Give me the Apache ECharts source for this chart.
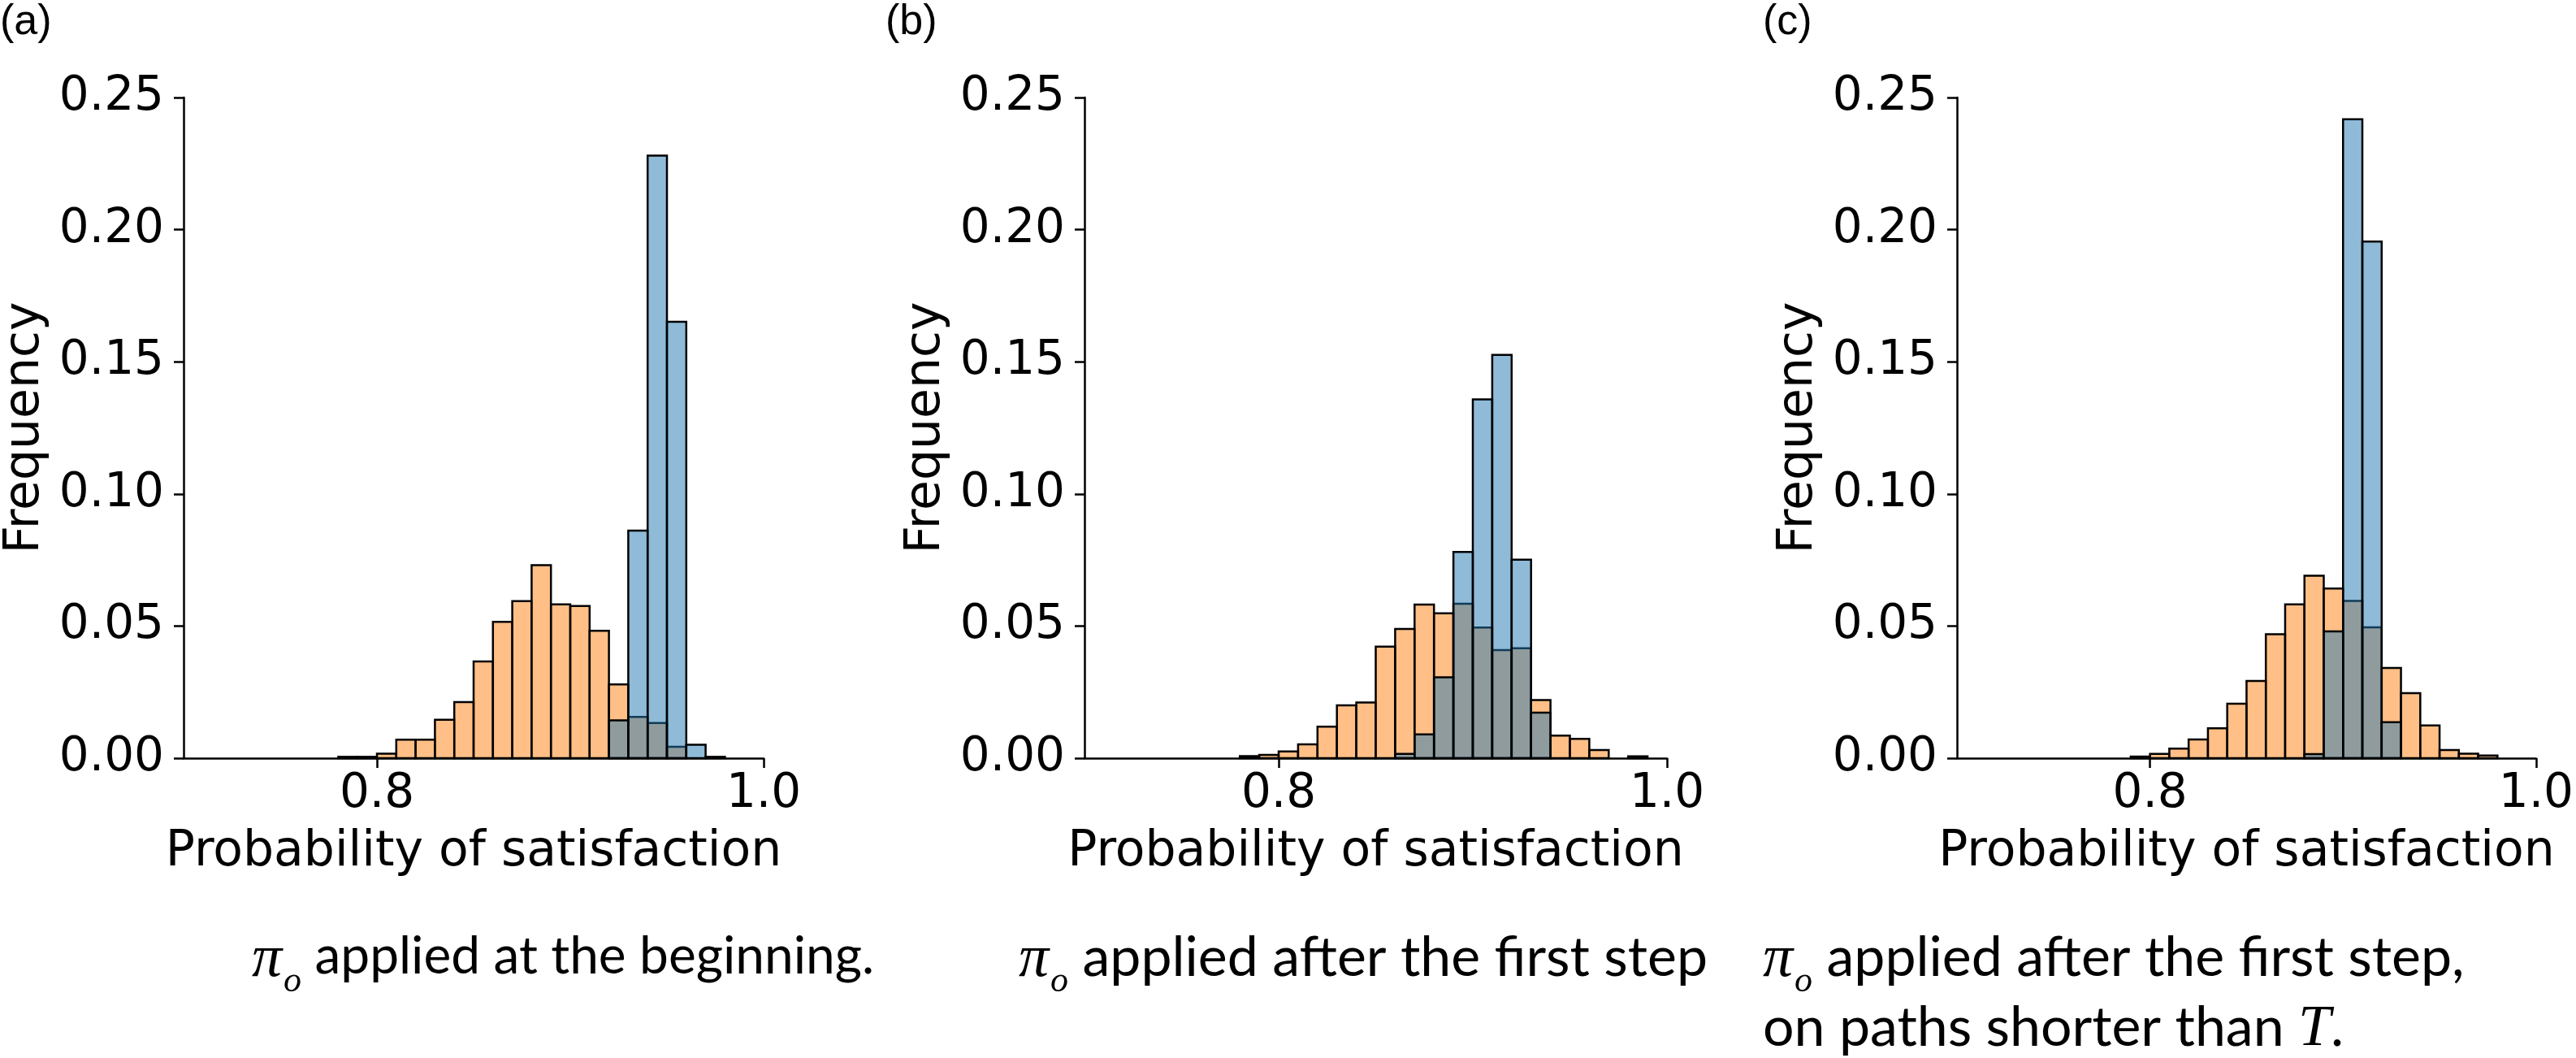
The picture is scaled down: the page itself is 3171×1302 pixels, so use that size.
<!DOCTYPE html>
<html>
<head>
<meta charset="utf-8">
<script src="https://cdn.jsdelivr.net/npm/echarts@6/dist/echarts.min.js"></script>
<style>
    html, body { margin: 0; padding: 0; background: #fff; }
    #chart { width: 3171px; height: 1302px; }
</style>
</head>
<body>
<div id="chart"></div>
<script>
// histogram bins (left edges), width 0.01
var binWidth = 0.01;
var binStarts = [0.78, 0.79, 0.80, 0.81, 0.82, 0.83, 0.84, 0.85, 0.86, 0.87, 0.88,
    0.89, 0.90, 0.91, 0.92, 0.93, 0.94, 0.95, 0.96, 0.97, 0.98];

// (a) applied at the beginning
var orangeA = [0.0005, 0.0005, 0.0017, 0.0070, 0.0070, 0.0145, 0.0212, 0.0366, 0.0516, 0.0594, 0.0730,
    0.0582, 0.0576, 0.0482, 0.0279, 0.0156, 0.0133, 0.0043, 0, 0, 0];
var blueA = [0, 0, 0, 0, 0, 0, 0, 0, 0, 0, 0,
    0, 0, 0, 0.0143, 0.0861, 0.2280, 0.1651, 0.0051, 0.0005, 0];

// (b) applied after the first step
var orangeB = [0.0008, 0.0012, 0.0025, 0.0052, 0.0119, 0.0200, 0.0211, 0.0422, 0.0489, 0.0581, 0.0548,
    0.0584, 0.0494, 0.0409, 0.0416, 0.0220, 0.0085, 0.0073, 0.0031, 0, 0.0007];
var blueB = [0, 0, 0, 0, 0, 0, 0, 0, 0.0016, 0.0090, 0.0306,
    0.0780, 0.1358, 0.1526, 0.0751, 0.0172, 0, 0, 0, 0, 0];

// (c) after the first step, paths shorter than T
var orangeC = [0, 0.0006, 0.0016, 0.0036, 0.0071, 0.0113, 0.0206, 0.0292, 0.0469, 0.0582, 0.0690,
    0.0642, 0.0595, 0.0495, 0.0341, 0.0246, 0.0124, 0.0031, 0.0017, 0.0010, 0];
var blueC = [0, 0, 0, 0, 0, 0, 0, 0, 0, 0, 0.0015,
    0.0480, 0.2418, 0.1955, 0.0136, 0, 0, 0, 0, 0, 0];

var xTicks = [0.8, 1.0];
var panelLabels = ['(a)', '(b)', '(c)'];
var xLabel = 'Probability of satisfaction';
var yLabel = 'Frequency';

var ORANGE = 'rgba(255,127,14,0.5)';
var BLUE = 'rgba(31,119,180,0.5)';
var TICK_FONT = 'DejaVu Sans';

var chart = echarts.init(document.getElementById('chart'));

function toBins(values) {
    var out = [];
    for (var i = 0; i < binStarts.length; i++) {
        if (values[i] > 0) {
            out.push([binStarts[i], binStarts[i] + binWidth, values[i]]);
        }
    }
    return out;
}

function histRender(fill) {
    return function (params, api) {
        var p0 = api.coord([api.value(0), 0]);
        var p1 = api.coord([api.value(1), api.value(2)]);
        return {
            type: 'rect',
            shape: { x: p0[0], y: p1[1], width: p1[0] - p0[0], height: p0[1] - p1[1] },
            style: { fill: fill, stroke: '#000', lineWidth: 2.5 }
        };
    };
}

function histSeries(idx, values, fill) {
    return {
        type: 'custom',
        xAxisIndex: idx,
        yAxisIndex: idx,
        renderItem: histRender(fill),
        encode: { x: [0, 1], y: 2 },
        data: toBins(values)
    };
}

var gridLefts = [223, 1335, 2409];
var grids = [], xAxes = [], yAxes = [];
for (var i = 0; i < 3; i++) {
    grids.push({ left: gridLefts[i], top: 120, width: 717, height: 813 });
    xAxes.push({
        type: 'value', gridIndex: i, min: 0.7, max: 1.0,
        name: xLabel, nameLocation: 'middle', nameGap: 86,
        nameTextStyle: { fontSize: 60, fontFamily: TICK_FONT, color: '#000' },
        axisLine: { lineStyle: { color: '#000', width: 2.5 } },
        axisTick: { customValues: xTicks, length: 12, lineStyle: { color: '#000', width: 2.5 } },
        axisLabel: {
            customValues: xTicks, margin: 16, fontSize: 58, fontFamily: TICK_FONT, color: '#000',
            formatter: function (v) { return v.toFixed(1); }
        },
        splitLine: { show: false }
    });
    yAxes.push({
        type: 'value', gridIndex: i, min: 0, max: 0.25, interval: 0.05,
        name: yLabel, nameLocation: 'middle', nameGap: 165, nameRotate: 90,
        nameTextStyle: { fontSize: 60, fontFamily: TICK_FONT, color: '#000' },
        axisLine: { show: true, lineStyle: { color: '#000', width: 2.5 } },
        axisTick: { show: true, length: 12, lineStyle: { color: '#000', width: 2.5 } },
        axisLabel: {
            margin: 24, fontSize: 58, fontFamily: TICK_FONT, color: '#000',
            formatter: function (v) { return v.toFixed(2); }
        },
        splitLine: { show: false }
    });
}

var capRich = {
    pi: { fontFamily: 'Liberation Serif', fontStyle: 'italic', fontSize: 74, lineHeight: 86, verticalAlign: 'top' },
    sub: { fontFamily: 'Liberation Serif', fontStyle: 'italic', fontSize: 44, lineHeight: 50, verticalAlign: 'top', padding: [41, 0, 0, 2] },
    t: { fontFamily: 'Lato', fontSize: 68, lineHeight: 86, verticalAlign: 'top', color: '#000' },
    ts: { fontFamily: 'Lato', fontSize: 64, lineHeight: 86, verticalAlign: 'top', color: '#000' },
    it: { fontFamily: 'Liberation Serif', fontStyle: 'italic', fontSize: 72, lineHeight: 86, verticalAlign: 'top' }
};

function caption(x, text) {
    return {
        type: 'text', left: x, top: 1145,
        style: { text: text, rich: capRich, fill: '#000' }
    };
}

function panelTag(x, text) {
    return {
        type: 'text', left: x, top: 2,
        style: { text: text, fontSize: 52, fontFamily: 'Liberation Sans', fill: '#000' }
    };
}

var option = {
    backgroundColor: '#fff',
    animation: false,
    grid: grids,
    xAxis: xAxes,
    yAxis: yAxes,
    series: [
        histSeries(0, orangeA, ORANGE), histSeries(0, blueA, BLUE),
        histSeries(1, orangeB, ORANGE), histSeries(1, blueB, BLUE),
        histSeries(2, orangeC, ORANGE), histSeries(2, blueC, BLUE)
    ],
    graphic: [
        panelTag(0, panelLabels[0]),
        panelTag(1090, panelLabels[1]),
        panelTag(2170, panelLabels[2]),
        caption(310, '{pi|π}{sub|o}{ts| applied at the beginning.}'),
        caption(1254, '{pi|π}{sub|o}{t| applied after the first step}'),
        caption(2170, '{pi|π}{sub|o}{t| applied after the first step,}\n{t|on paths shorter than }{it|T}{t|.}')
    ]
};

chart.setOption(option);
</script>
</body>
</html>
